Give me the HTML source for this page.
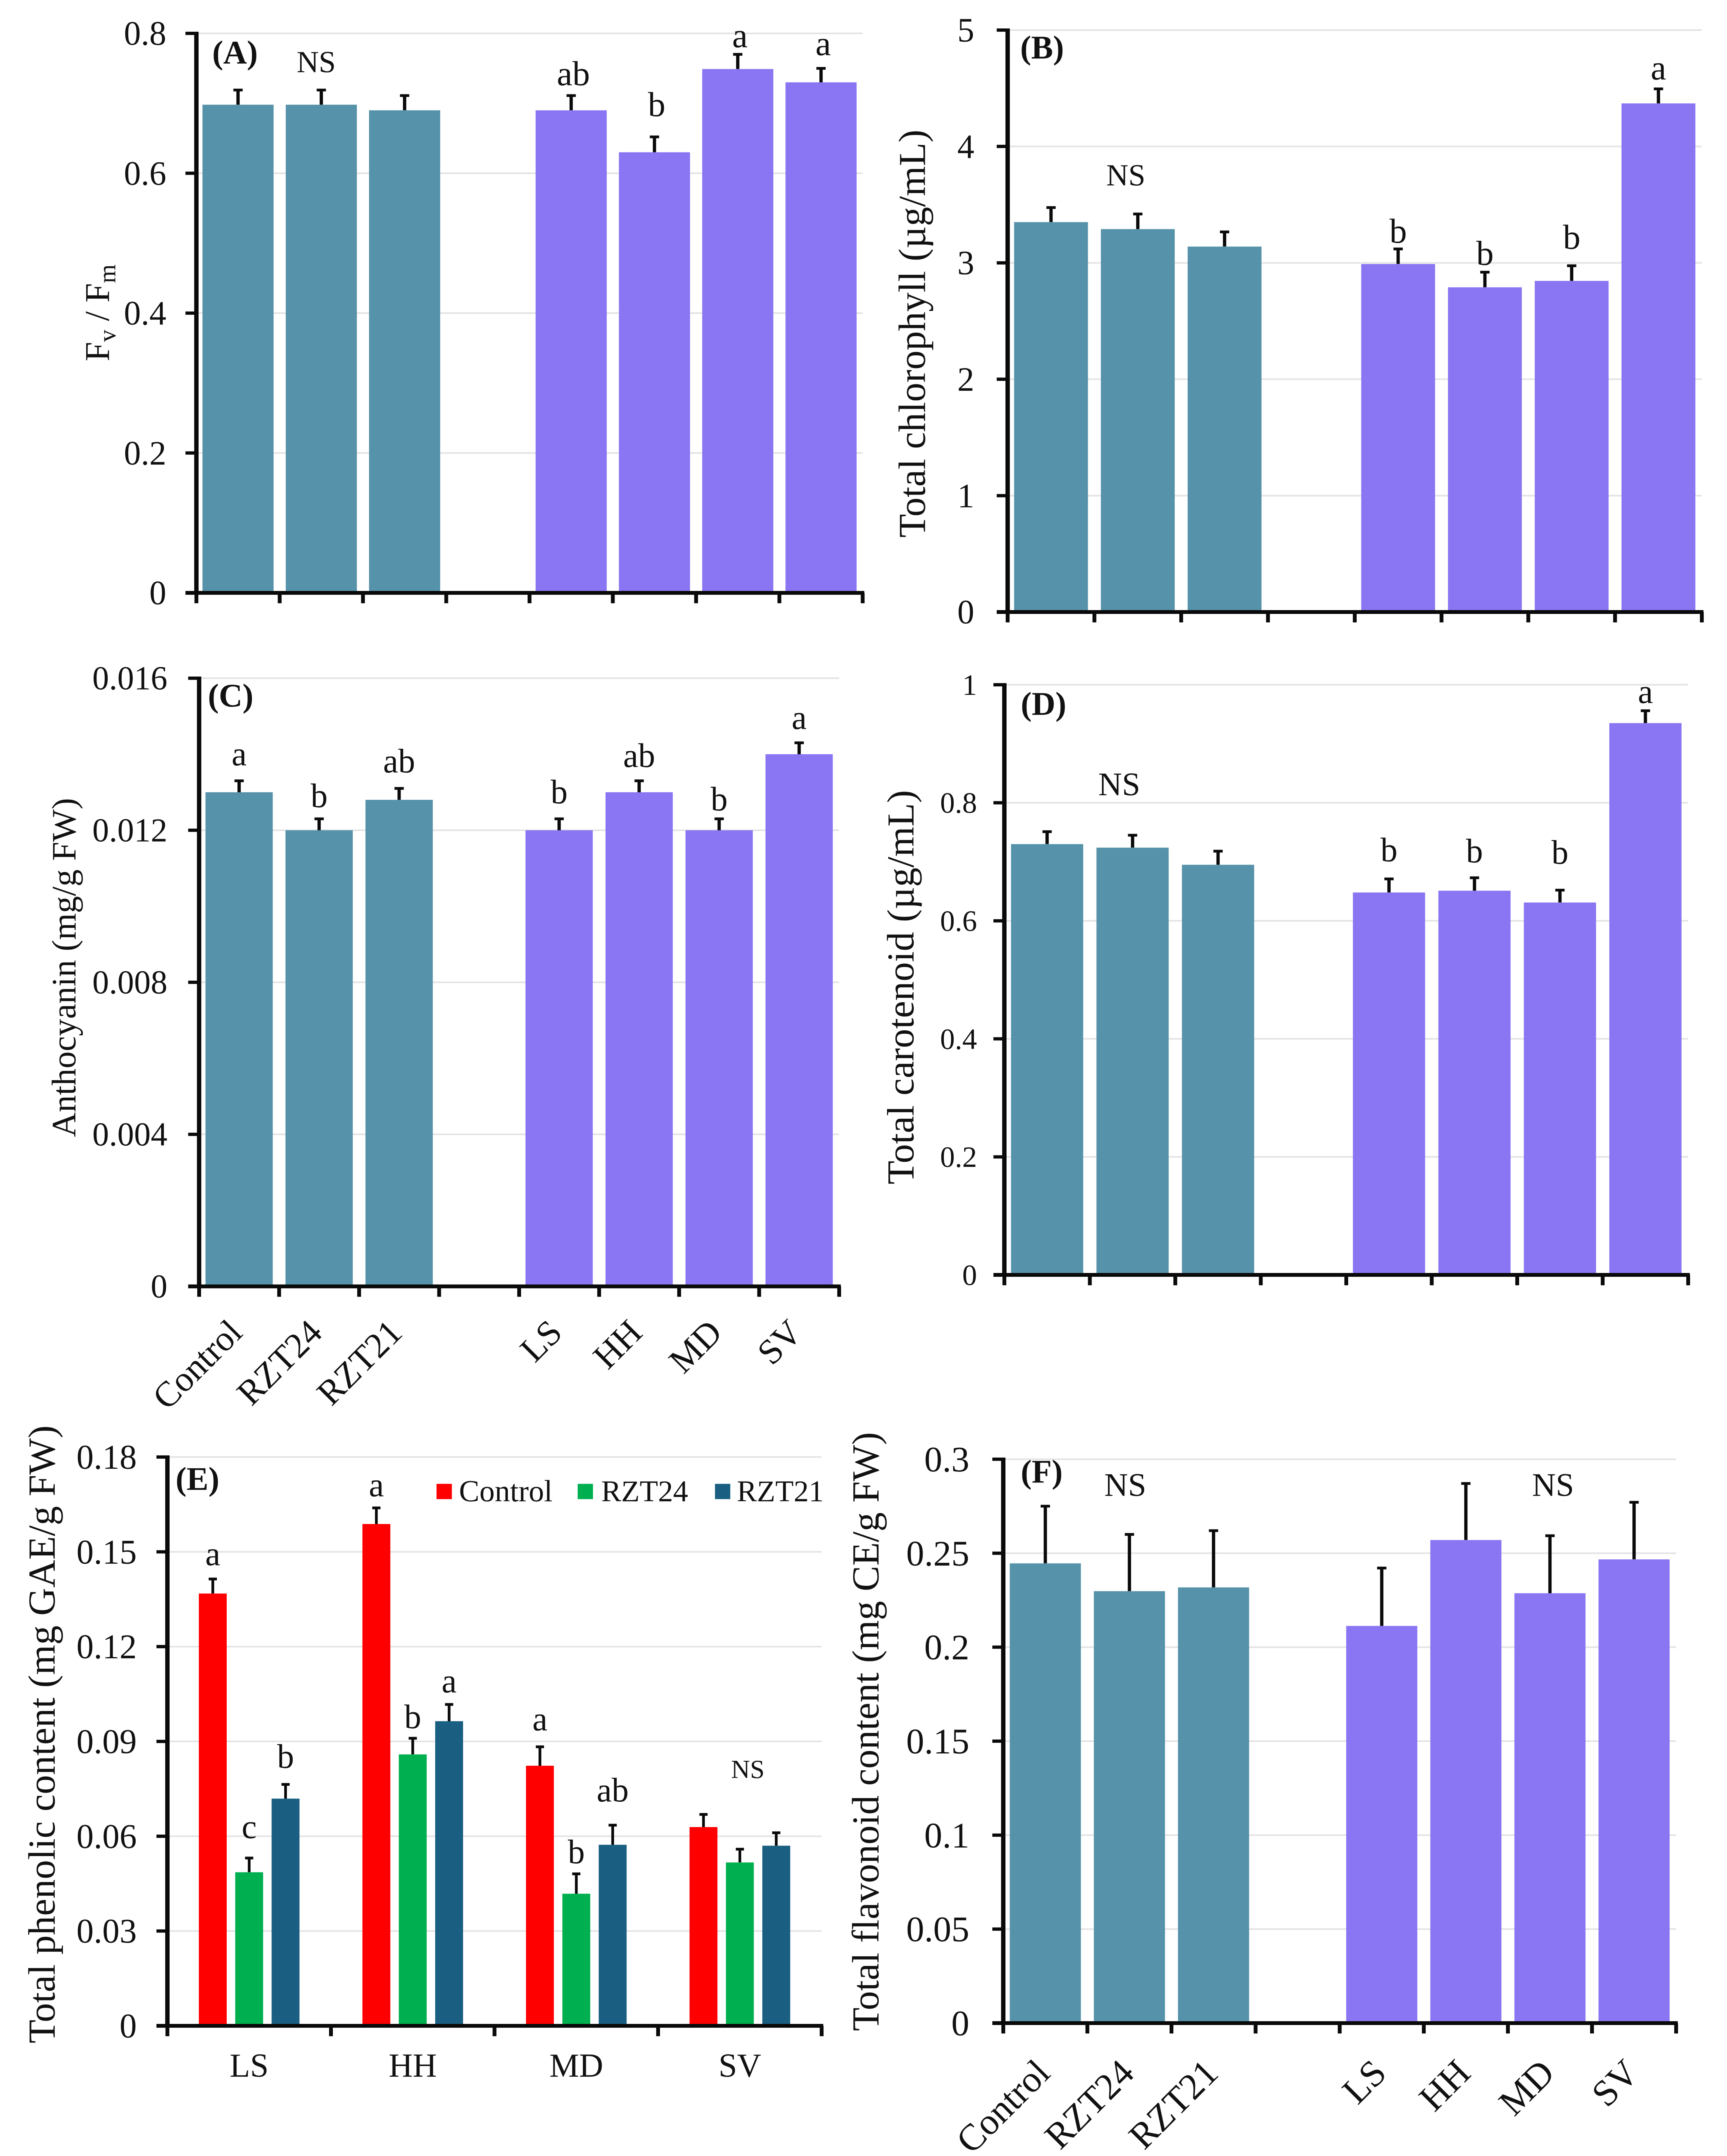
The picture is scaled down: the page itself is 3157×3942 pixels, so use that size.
<!DOCTYPE html>
<html lang="en">
<head>
<meta charset="utf-8">
<title>Six-panel bar charts</title>
<style>
  html, body { margin: 0; padding: 0; background: #fff; }
  #figure { display: block; width: 3157px; height: 3942px; background: #fff; filter: blur(0.8px); }
  text { font-family: "Liberation Serif", serif; fill: #111; }
  .title { font-size: 70px; }
  .panel-label { font-size: 60px; font-weight: bold; }
</style>
</head>
<body>
<svg id="figure" xmlns="http://www.w3.org/2000/svg" width="3157" height="3942" viewBox="0 0 3157 3942">
  <g id="panel-a"></g>
  <g id="panel-b"></g>
  <g id="panel-c"></g>
  <g id="panel-d"></g>
  <g id="panel-e"></g>
  <g id="panel-f"></g>

  <g>
    <text class="title" transform="translate(199,572) rotate(-90)" text-anchor="middle" style="font-size:64px">F<tspan dy="12" font-size="44">v</tspan><tspan dy="-12"> / F</tspan><tspan dy="12" font-size="44">m</tspan></text>
    <text class="title" transform="translate(1691,610) rotate(-90)" text-anchor="middle" textLength="746" lengthAdjust="spacingAndGlyphs">Total chlorophyll (µg/mL)</text>
    <text class="title" transform="translate(138,1769) rotate(-90)" text-anchor="middle" textLength="620" lengthAdjust="spacingAndGlyphs" style="font-size:62px">Anthocyanin (mg/g FW)</text>
    <text class="title" transform="translate(1670,1805) rotate(-90)" text-anchor="middle" textLength="721" lengthAdjust="spacingAndGlyphs">Total carotenoid (µg/mL)</text>
    <text class="title" transform="translate(100,3171) rotate(-90)" text-anchor="middle" textLength="1130" lengthAdjust="spacingAndGlyphs">Total phenolic content (mg GAE/g FW)</text>
    <text class="title" transform="translate(1606,3166) rotate(-90)" text-anchor="middle" textLength="1095" lengthAdjust="spacingAndGlyphs">Total flavonoid content (mg CE/g FW)</text>

    <text class="panel-label" x="388" y="116">(A)</text>
    <text class="panel-label" x="1865" y="107">(B)</text>
    <text class="panel-label" x="380" y="1292">(C)</text>
    <text class="panel-label" x="1866" y="1307">(D)</text>
    <text class="panel-label" x="321" y="2724">(E)</text>
    <text class="panel-label" x="1866" y="2711">(F)</text>

    <text x="578" y="132" text-anchor="middle" font-size="56">NS</text>
    <text x="2058" y="339" text-anchor="middle" font-size="56">NS</text>
    <text x="2046" y="1454" text-anchor="middle" font-size="60">NS</text>
    <text x="1367" y="3251" text-anchor="middle" font-size="48">NS</text>
    <text x="2057" y="2735" text-anchor="middle" font-size="60">NS</text>
    <text x="2839" y="2735" text-anchor="middle" font-size="60">NS</text>

    <g>
      <rect x="798" y="2713" width="28" height="28" fill="#ff0000"/>
      <text x="839" y="2745" font-size="56">Control</text>
      <rect x="1056" y="2713" width="28" height="28" fill="#00b050"/>
      <text x="1099" y="2745" font-size="55">RZT24</text>
      <rect x="1307" y="2713" width="28" height="28" fill="#1a5f82"/>
      <text x="1347" y="2745" font-size="55">RZT21</text>
    </g>
  </g>
</svg>

<script>
// ---- Shared categories ----
const treatmentLabels = ["Control", "RZT24", "RZT21", "", "LS", "HH", "MD", "SV"];
const lightGroups = ["LS", "HH", "MD", "SV"];
const seriesNames = ["Control", "RZT24", "RZT21"];

// ---- Panel A: Fv/Fm ----
const yTicksA = ["0", "0.2", "0.4", "0.6", "0.8"];
const valuesA = [0.698, 0.698, 0.69, null, 0.69, 0.63, 0.749, 0.73];
const errorsA = [0.021, 0.021, 0.021, null, 0.021, 0.022, 0.021, 0.02];
const lettersA = ["", "", "", "", "ab", "b", "a", "a"];
const liftA = [0, 0, 0, 0, 19, 38, 13, 24];

// ---- Panel B: Total chlorophyll ----
const yTicksB = ["0", "1", "2", "3", "4", "5"];
const valuesB = [3.35, 3.29, 3.14, null, 2.99, 2.79, 2.845, 4.37];
const errorsB = [0.125, 0.13, 0.126, null, 0.13, 0.13, 0.13, 0.125];
const lettersB = ["", "", "", "", "b", "b", "b", "a"];
const liftB = [0, 0, 0, 0, 11, 13, 31, 17];

// ---- Panel C: Anthocyanin ----
const yTicksC = ["0", "0.004", "0.008", "0.012", "0.016"];
const valuesC = [0.013, 0.012, 0.0128, null, 0.012, 0.013, 0.012, 0.014];
const errorsC = [0.0003, 0.0003, 0.0003, null, 0.0003, 0.0003, 0.0003, 0.0003];
const lettersC = ["a", "b", "ab", "", "b", "ab", "b", "a"];
const liftC = [28, 21, 29, 0, 28, 25, 15, 25];

// ---- Panel D: Total carotenoid ----
const yTicksD = ["0", "0.2", "0.4", "0.6", "0.8", "1"];
const valuesD = [0.73, 0.724, 0.695, null, 0.648, 0.651, 0.631, 0.935];
const errorsD = [0.021, 0.021, 0.023, null, 0.023, 0.022, 0.021, 0.021];
const lettersD = ["", "", "", "", "b", "b", "b", "a"];
const liftD = [0, 0, 0, 0, 32, 28, 48, 14];

// ---- Panel E: Total phenolic content ----
const yTicksE = ["0", "0.03", "0.06", "0.09", "0.12", "0.15", "0.18"];
const controlE = [0.1368, 0.1588, 0.0823, 0.0629];
const rzt24E = [0.0486, 0.0859, 0.0418, 0.0517];
const rzt21E = [0.0719, 0.0964, 0.0573, 0.057];
const controlErrE = [0.0046, 0.0051, 0.006, 0.004];
const rzt24ErrE = [0.0045, 0.0051, 0.0063, 0.0042];
const rzt21ErrE = [0.0045, 0.0053, 0.0062, 0.0041];
const controlLettersE = ["a", "a", "a", ""];
const rzt24LettersE = ["c", "b", "b", ""];
const rzt21LettersE = ["b", "a", "ab", ""];
const controlLiftE = [25, 21, 30, 0];
const rzt24LiftE = [36, 18, 19, 0];
const rzt21LiftE = [30, 22, 43, 0];

// ---- Panel F: Total flavonoid content ----
const yTicksF = ["0", "0.05", "0.1", "0.15", "0.2", "0.25", "0.3"];
const valuesF = [0.2446, 0.2298, 0.2318, null, 0.2113, 0.257, 0.2287, 0.2467];
const errorsF = [0.0304, 0.0302, 0.0302, null, 0.0308, 0.0301, 0.0306, 0.0304];

const SVG_NS = "http://www.w3.org/2000/svg";
const TEAL = "#5692a9";
const PURPLE = "#8a75f2";
const INK = "#0a0a0a";

function mk(parent, tag, attrs, text) {
  const el = document.createElementNS(SVG_NS, tag);
  for (const k in attrs) el.setAttribute(k, attrs[k]);
  if (text !== undefined) el.textContent = text;
  parent.appendChild(el);
  return el;
}

function drawFrame(g, cfg, ticks, yScale) {
  const maxTick = Number(ticks[ticks.length - 1]);
  ticks.forEach(function (label) {
    const v = Number(label);
    const y = yScale(v);
    if (v > 0) {
      const grid = mk(g, "line", { x1: cfg.x0, x2: cfg.x1, y1: y, y2: y, stroke: "#e4e4e4", "stroke-width": 3 });
      
      
    }
    const tick = mk(g, "line", { x1: cfg.x0 - 20, x2: cfg.x0, y1: y, y2: y, stroke: INK, "stroke-width": 6 });
    
    
    const t = mk(g, "text", { x: cfg.labelRight, y: y + cfg.tickFont * 0.34, "text-anchor": "end", "font-size": cfg.tickFont }, label);
    
    
  });
  return maxTick;
}

function drawAxes(g, cfg, tickCount) {
  const step = (cfg.x1 - cfg.x0) / tickCount;
  const yAxis = mk(g, "line", { x1: cfg.x0, x2: cfg.x0, y1: cfg.top - 3, y2: cfg.bottom + 3, stroke: INK, "stroke-width": 8 });
  
  
  const xAxis = mk(g, "line", { x1: cfg.x0 - 20, x2: cfg.x1 + 3, y1: cfg.bottom, y2: cfg.bottom, stroke: INK, "stroke-width": 7 });
  
  
  for (let i = 0; i <= tickCount; i++) {
    const xp = cfg.x0 + step * i;
    const tick = mk(g, "line", { x1: xp, x2: xp, y1: cfg.bottom, y2: cfg.bottom + 19, stroke: INK, "stroke-width": 7 });
    
    
  }
}

function drawBar(g, cx, w, value, err, color, yScale, cfg, capW, stemW, name) {
  const top = yScale(value);
  const errTop = yScale(value + err);
  const stem = mk(g, "line", { x1: cx, x2: cx, y1: top, y2: errTop, stroke: INK, "stroke-width": stemW });
  
  
  const cap = mk(g, "line", { x1: cx - capW / 2, x2: cx + capW / 2, y1: errTop, y2: errTop, stroke: INK, "stroke-width": 5 });
  
  
  const bar = mk(g, "rect", { x: cx - w / 2, y: top, width: w, height: cfg.bottom - top, fill: color });
  
  
  return errTop;
}

function drawLetter(g, x, y, letter, size) {
  if (!letter) return;
  const t = mk(g, "text", { x: x, y: y, "text-anchor": "middle", "font-size": size }, letter);
  
  
}

function drawPanel(id, cfg, ticks, values, errors, letters, lifts) {
  const g = document.getElementById(id);
  const maxV = Number(ticks[ticks.length - 1]);
  const yScale = function (v) { return cfg.bottom - (v / maxV) * (cfg.bottom - cfg.top); };
  drawFrame(g, cfg, ticks, yScale);
  const n = treatmentLabels.length;
  const step = (cfg.x1 - cfg.x0) / n;
  values.forEach(function (v, i) {
    if (v === null) return;
    const cx = cfg.x0 + step * (i + 0.5);
    const color = i < 3 ? TEAL : PURPLE;
    const errTop = drawBar(g, cx, cfg.barW, v, errors[i], color, yScale, cfg, 17, 6, 'bar-' + treatmentLabels[i].toLowerCase());
    if (letters) drawLetter(g, cx + cfg.letterDx, errTop - lifts[i], letters[i], cfg.letterFont);
    if (cfg.rotY) {
      const lx = cx + cfg.rotDx;
      const t = mk(g, "text", { x: lx, y: cfg.rotY, "text-anchor": "end", "font-size": cfg.rotFont, transform: "rotate(-45 " + lx + " " + cfg.rotY + ")" }, treatmentLabels[i]);
      
      
    }
  });
  drawAxes(g, cfg, n);
}

drawPanel("panel-a", { x0: 359, x1: 1577, top: 61, bottom: 1084, barW: 130, labelRight: 304, tickFont: 62, letterFont: 64, letterDx: 4 }, yTicksA, valuesA, errorsA, lettersA, liftA);
drawPanel("panel-b", { x0: 1842, x1: 3111, top: 55, bottom: 1119, barW: 135, labelRight: 1781, tickFont: 62, letterFont: 64, letterDx: 0 }, yTicksB, valuesB, errorsB, lettersB, liftB);
drawPanel("panel-c", { x0: 364, x1: 1534, top: 1240, bottom: 2352, barW: 123, labelRight: 306, tickFont: 61, letterFont: 62, letterDx: 0, rotY: 2440, rotDx: 9, rotFont: 65 }, yTicksC, valuesC, errorsC, lettersC, liftC);
drawPanel("panel-d", { x0: 1836, x1: 3086, top: 1252, bottom: 2331, barW: 132, labelRight: 1786, tickFont: 54, letterFont: 62, letterDx: 0 }, yTicksD, valuesD, errorsD, lettersD, liftD);
drawPanel("panel-f", { x0: 1834, x1: 3064, top: 2668, bottom: 3699, barW: 130, labelRight: 1772, tickFont: 66, letterFont: 60, letterDx: 0, rotY: 3794, rotDx: 12, rotFont: 68 }, yTicksF, valuesF, errorsF, null, null);

(function drawPanelE() {
  const g = document.getElementById("panel-e");
  const cfg = { x0: 306, x1: 1502, top: 2664, bottom: 3704, barW: 51, labelRight: 250, tickFont: 63 };
  const maxV = Number(yTicksE[yTicksE.length - 1]);
  const yScale = function (v) { return cfg.bottom - (v / maxV) * (cfg.bottom - cfg.top); };
  drawFrame(g, cfg, yTicksE, yScale);
  const step = (cfg.x1 - cfg.x0) / lightGroups.length;
  const pitch = 66.5;
  const series = [
    { vals: controlE, errs: controlErrE, letters: controlLettersE, lift: controlLiftE, color: "#ff0000" },
    { vals: rzt24E, errs: rzt24ErrE, letters: rzt24LettersE, lift: rzt24LiftE, color: "#00b050" },
    { vals: rzt21E, errs: rzt21ErrE, letters: rzt21LettersE, lift: rzt21LiftE, color: "#1a5f82" }
  ];
  lightGroups.forEach(function (group, gi) {
    const center = cfg.x0 + step * (gi + 0.5);
    series.forEach(function (s, si) {
      const cx = center + (si - 1) * pitch;
      const errTop = drawBar(g, cx, cfg.barW, s.vals[gi], s.errs[gi], s.color, yScale, cfg, 15, 5, 'bar-' + group.toLowerCase() + '-' + seriesNames[si].toLowerCase());
      drawLetter(g, cx, errTop - s.lift[gi], s.letters[gi], 62);
    });
    const label = mk(g, "text", { x: center, y: 3797, "text-anchor": "middle", "font-size": 61 }, group);
    
    
  });
  drawAxes(g, cfg, lightGroups.length);
})();
</script>
</body>
</html>
